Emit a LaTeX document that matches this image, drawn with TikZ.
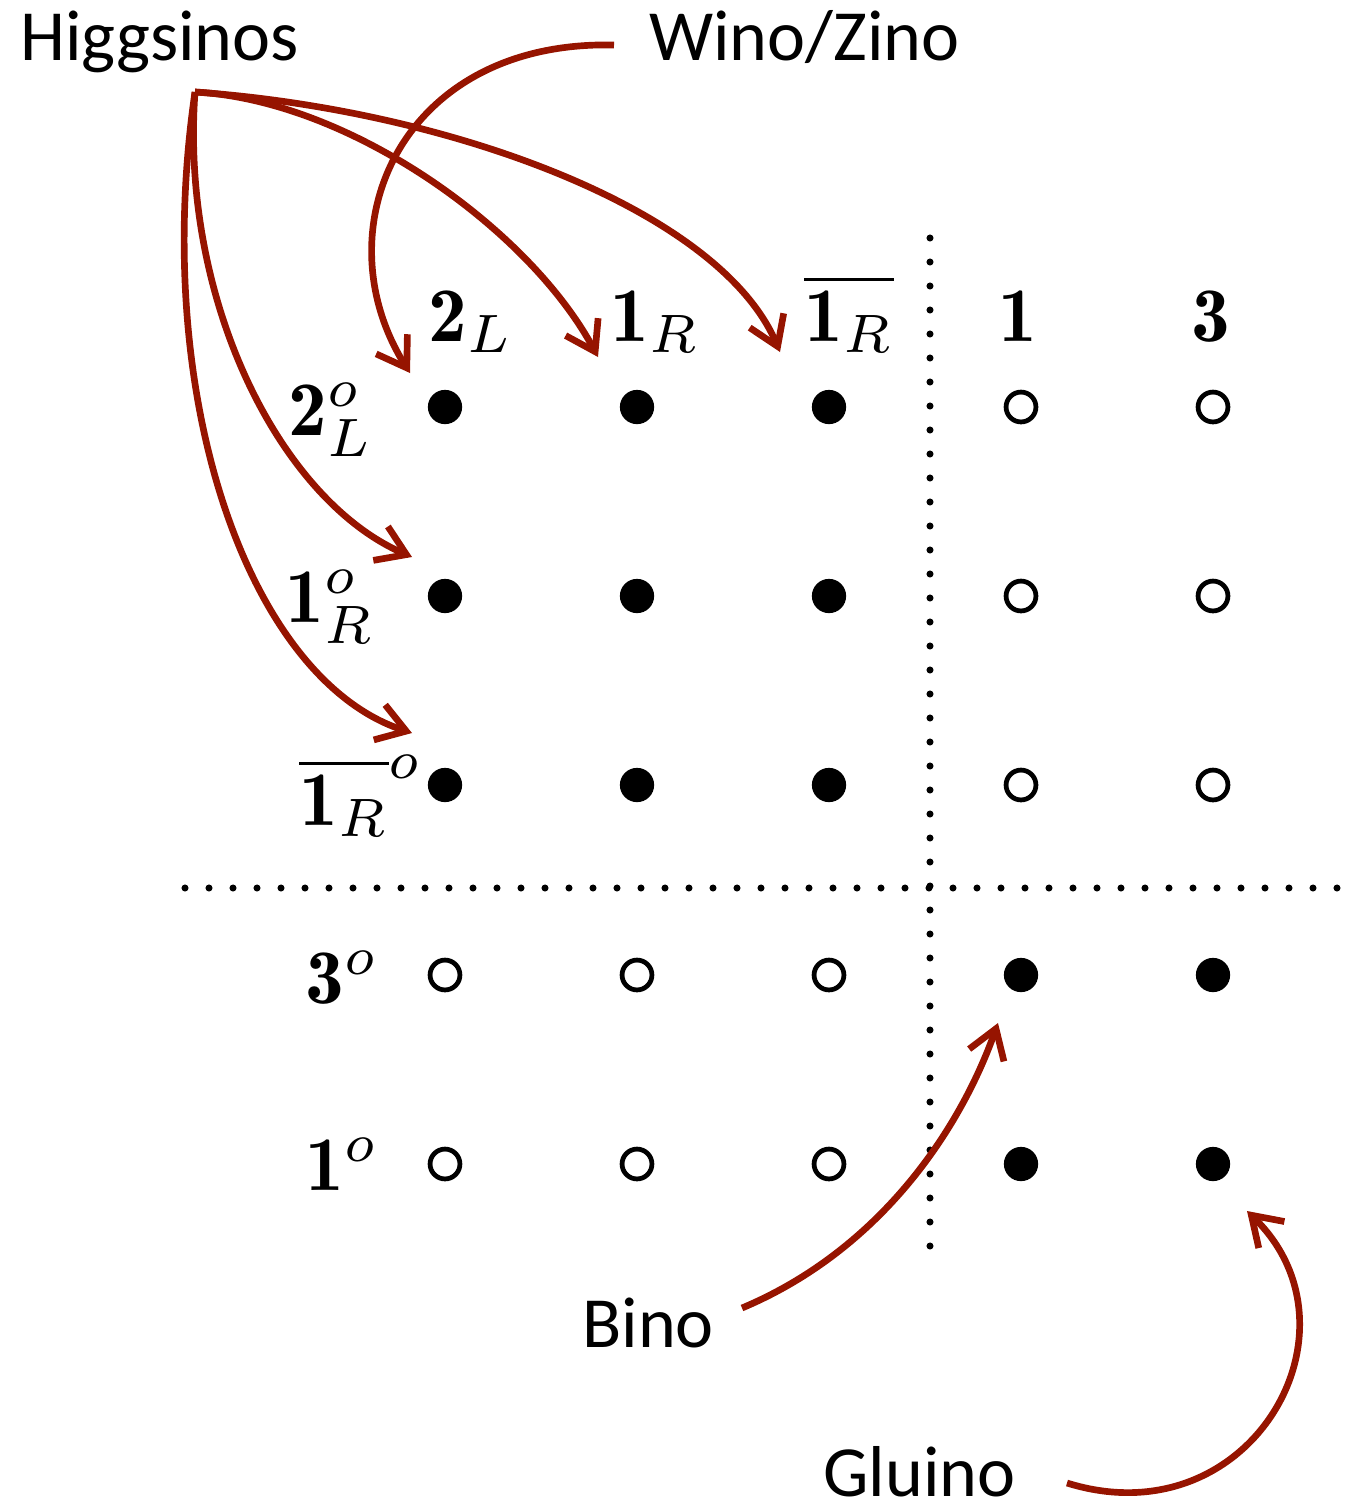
\documentclass[tikz,border=0pt]{standalone}
\usepackage{amsmath}
\usepackage{graphicx}
\usepackage{fontspec}
\setsansfont{Carlito}
\usepackage{tikz}
\usetikzlibrary{arrows.meta,calc}
\definecolor{darkred}{RGB}{150,20,0}
\newcommand{\irrep}[1]{\scalebox{4.4}{$#1$}}

\begin{document}
\begin{tikzpicture}[x=0.02cm, y=-0.02cm,
		full/.style={circle, fill=black, inner sep=0pt, minimum size=19.5pt},
		empty/.style={circle, draw=black, line width=2.7pt, inner sep=0pt, minimum size=17pt},
		rep/.style={font=\normalsize, inner sep=0pt},
		particle/.style={font=\sffamily\fontsize{41}{45}\selectfont, inner sep=0pt},
		sep/.style={line width=4pt, line cap=round, dash pattern=on 0pt off 13.66pt},
		pointer/.style={draw=darkred, line width=3.8pt, -{Straight Barb[length=16pt,width=21pt]}}]
		
		\useasboundingbox (0,0) rectangle (1359,1502);
		
		% --- states ---
		\foreach \r/\y in {1/407,2/596,3/785} {
			\foreach \c/\x in {1/445,2/637,3/829} \node[full] (d\r\c) at (\x,\y) {};
			\foreach \c/\x in {4/1021,5/1213} \node[empty] (d\r\c) at (\x,\y) {};
		}
		\foreach \r/\y in {4/975,5/1164} {
			\foreach \c/\x in {1/445,2/637,3/829} \node[empty] (d\r\c) at (\x,\y) {};
			\foreach \c/\x in {4/1021,5/1213} \node[full] (d\r\c) at (\x,\y) {};
		}
		
		% --- column labels ---
		\node[rep, anchor=base west] (c1) at (428,341) {\irrep{\mathbf{2}_L}};
		\node[rep, anchor=base west] (c2) at (610,341) {\irrep{\mathbf{1}_R}};
		\node[rep, anchor=base west] (c3) at (804,341) {\irrep{\overline{\mathbf{1}_R}}};
		\node[rep, anchor=base west] (c4) at (998,341) {\irrep{\mathbf{1}}};
		\node[rep, anchor=base west] (c5) at (1191,341) {\irrep{\mathbf{3}}};
		
		% --- row labels ---
		\node[rep, anchor=base west] (r1) at (288,435) {\irrep{\mathbf{2}_L^o}};
		\node[rep, anchor=base west] (r2) at (285,622) {\irrep{\mathbf{1}_R^o}};
		\node[rep, anchor=base west] (r3) at (299,825) {\irrep{\overline{\mathbf{1}_R}^o}};
		\node[rep, anchor=base west] (r4) at (305,1003) {\irrep{\mathbf{3}^o}};
		\node[rep, anchor=base west] (r5) at (305,1190) {\irrep{\mathbf{1}^o}};
		
		% --- blocks ---
		\draw[sep] (930,238) -- (930,1250);
		\draw[sep] (185,888) -- (1345,888);
		
		% --- names ---
		\node[particle, anchor=base west] (higgs) at (20,60) {Higgsinos};
		\node[particle, anchor=base west] (wino) at (649,60) {Wino/Zino};
		\node[particle, anchor=base west] (bino) at (582,1347) {Bino};
		\node[particle, anchor=base west] (gluino) at (823,1496) {Gluino};
		
		% Higgsinos
		\coordinate (hs) at (195,92);
		\draw[pointer] (hs) .. controls (350,100) and (530,230) .. ($(d12)+(-39,-50)$);
		\draw[pointer] (hs) .. controls (450,110) and (720,210) .. ($(d13)+(-49,-55)$);
		\draw[pointer] (hs) .. controls (180,300) and (280,500) .. ($(d21)+(-33,-39)$);
		\draw[pointer] (hs) .. controls (150,400) and (250,680) .. ($(d31)+(-33,-52)$);
		
		% Wino/Zino
		\coordinate (ws) at (614,45);
		\draw[pointer] (ws) .. controls (400,40) and (320,230) .. ($(d11)+(-35,-34)$);
		
		% Bino and Gluino
		\coordinate (bs) at (742,1308);
		\draw[pointer] (bs) .. controls (880,1250) and (960,1130) .. ($(d44)+(-23,48)$);
		\coordinate (gs) at (1067,1483);
		\draw[pointer] (gs) .. controls (1250,1540) and (1370,1330) .. ($(d55)+(34,47)$);
		
	\end{tikzpicture}
\end{document}
